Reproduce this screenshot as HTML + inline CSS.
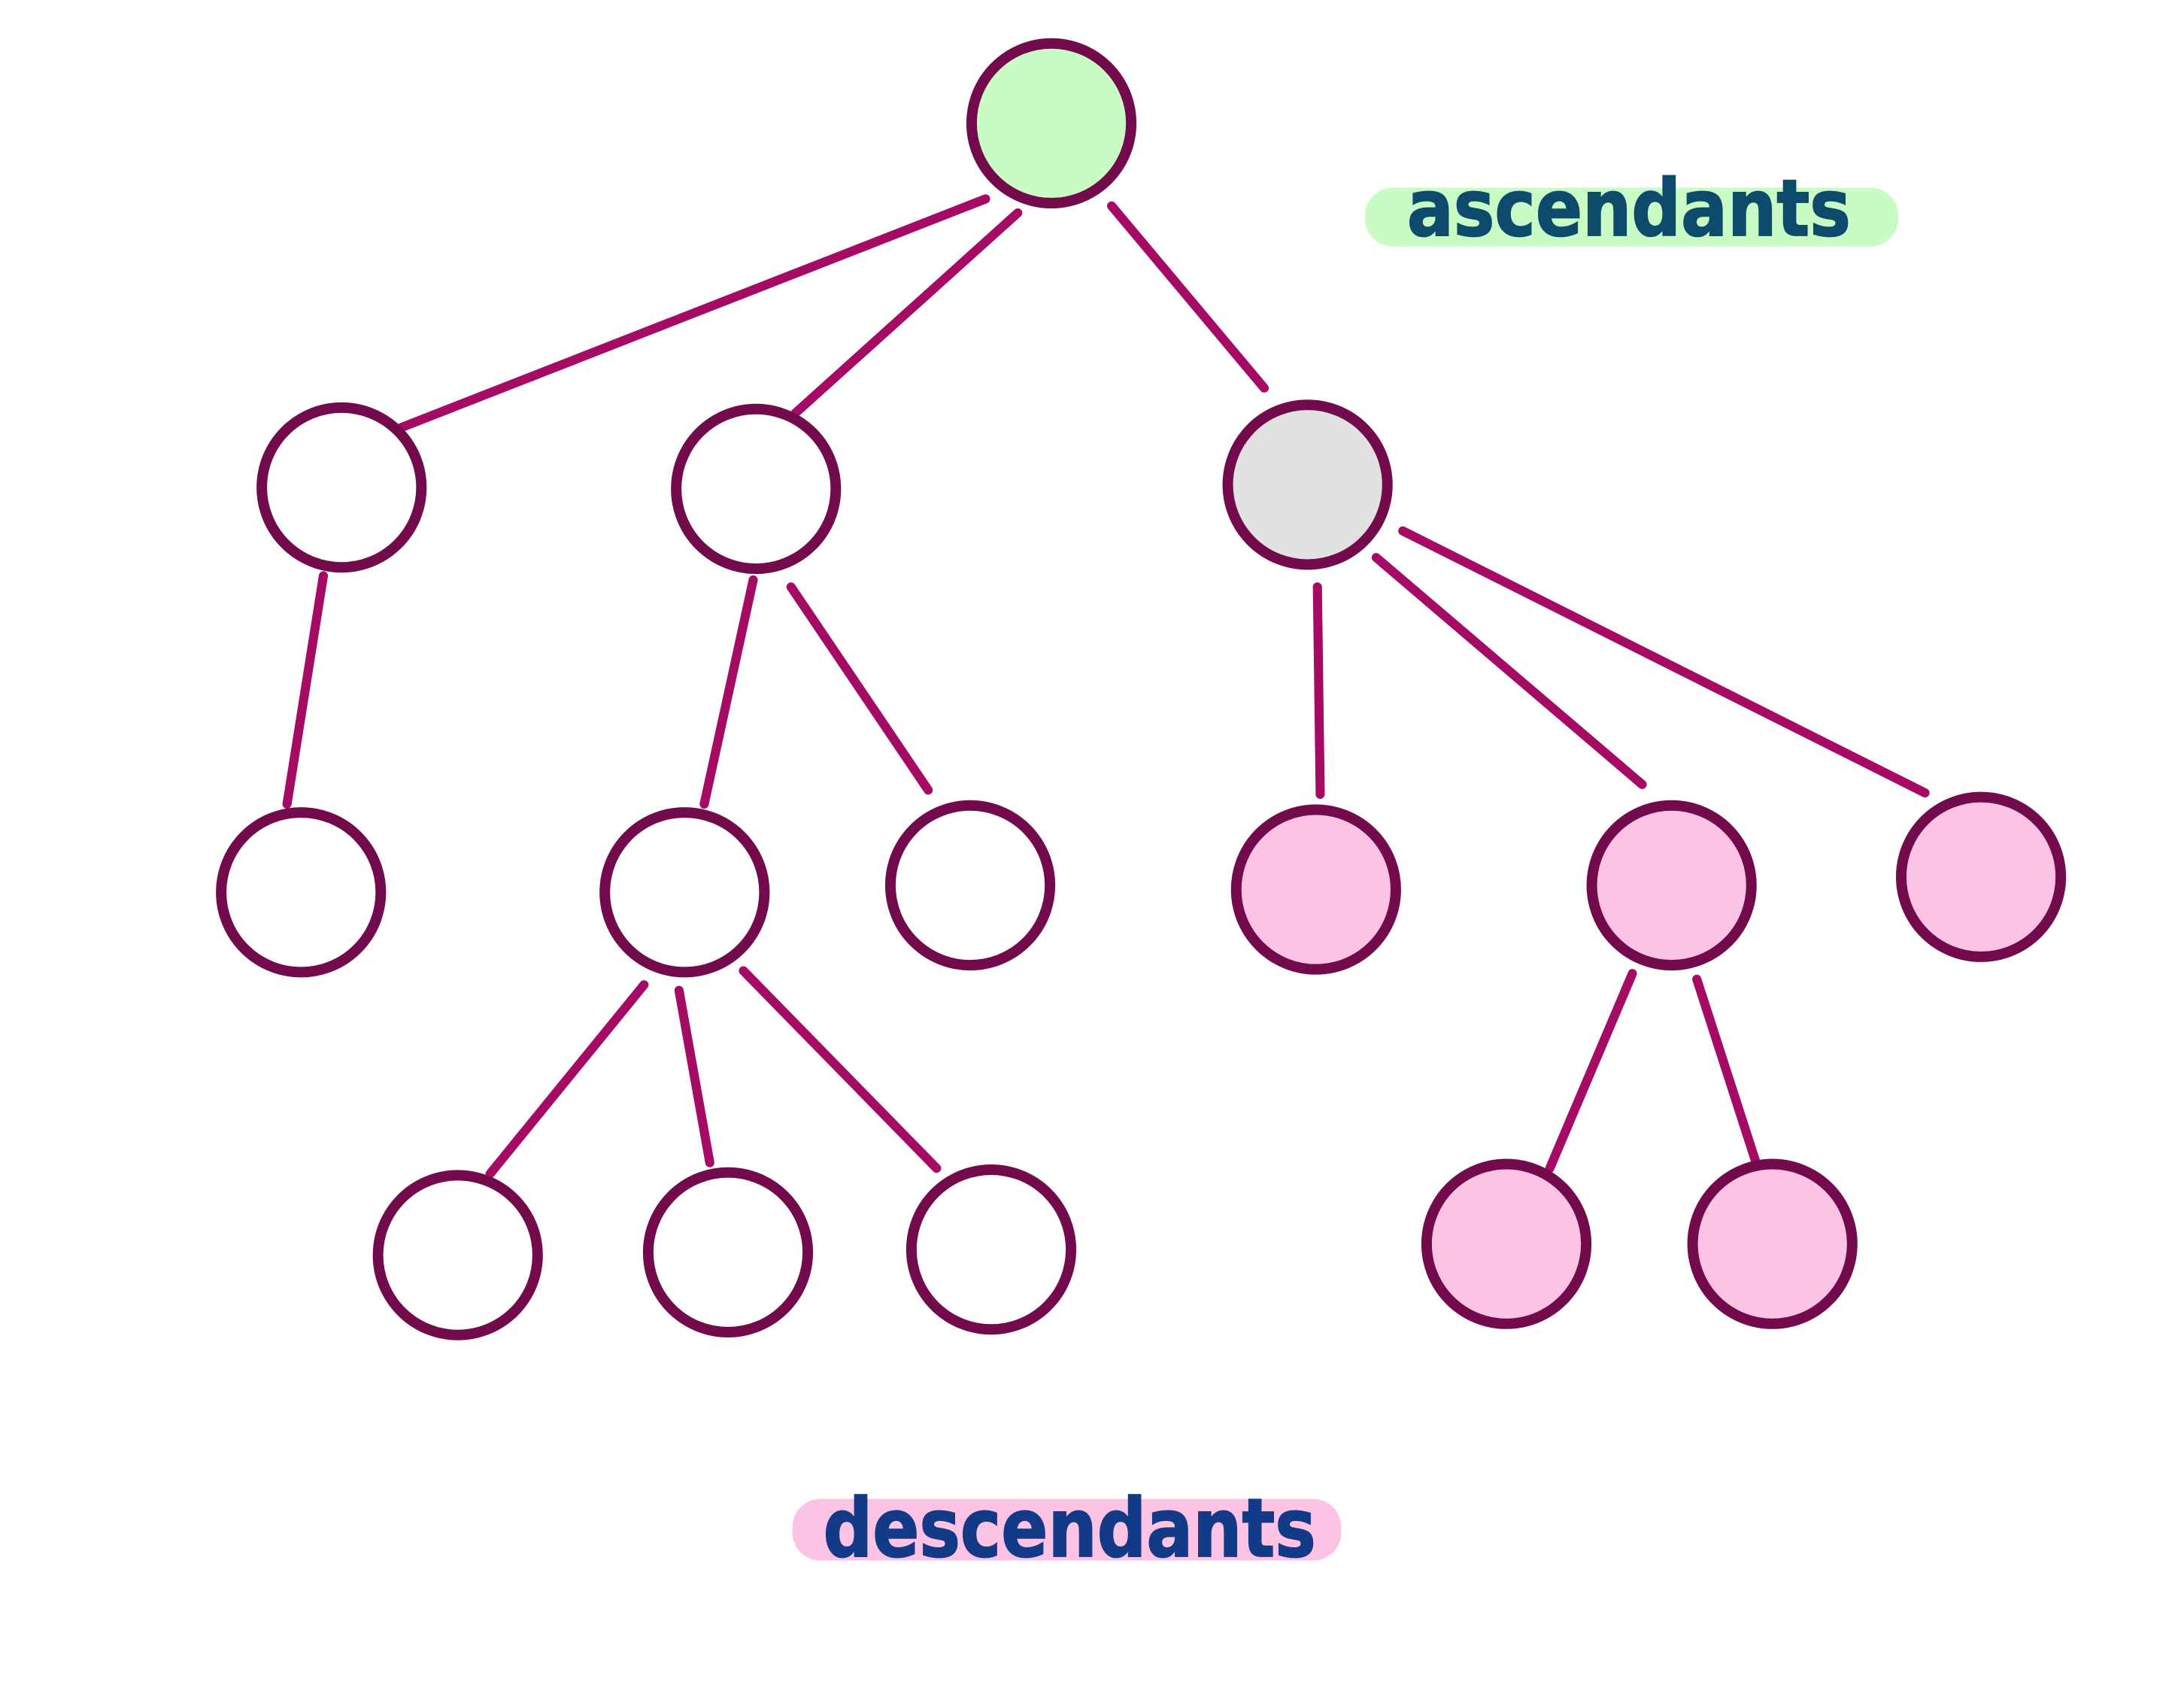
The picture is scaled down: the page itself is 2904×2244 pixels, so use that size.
<!DOCTYPE html>
<html><head><meta charset="utf-8"><style>html,body{margin:0;padding:0;background:#fff}svg{display:block}</style></head>
<body>
<svg width="2904" height="2244" viewBox="0 0 1560 1205" preserveAspectRatio="none" xmlns="http://www.w3.org/2000/svg">
<rect width="1560" height="1205" fill="#fff"/>
<g stroke="#a50a64" stroke-width="6.5" stroke-linecap="round">
<line x1="704" y1="142" x2="282" y2="307"/>
<line x1="727" y1="152" x2="568" y2="295"/>
<line x1="794" y1="147" x2="903" y2="277"/>
<line x1="231" y1="411" x2="205" y2="574"/>
<line x1="538" y1="414" x2="503" y2="574"/>
<line x1="565" y1="419" x2="663" y2="564"/>
<line x1="941" y1="419" x2="943" y2="567"/>
<line x1="983" y1="398" x2="1173" y2="560"/>
<line x1="1002" y1="379" x2="1375" y2="566"/>
<line x1="460" y1="703" x2="350" y2="838"/>
<line x1="485" y1="707" x2="507" y2="830"/>
<line x1="531" y1="693" x2="669" y2="834"/>
<line x1="1166" y1="695" x2="1107" y2="834"/>
<line x1="1212" y1="699" x2="1254" y2="829"/>
</g>
<g stroke="#720a4c" stroke-width="7.5">
<circle cx="751" cy="88" r="57" fill="#c8fcc4"/>
<circle cx="244" cy="348" r="57" fill="#fff"/>
<circle cx="540" cy="349" r="57" fill="#fff"/>
<circle cx="934" cy="346" r="57" fill="#e1e1e1"/>
<circle cx="215" cy="637" r="57" fill="#fff"/>
<circle cx="489" cy="637" r="57" fill="#fff"/>
<circle cx="693" cy="632" r="57" fill="#fff"/>
<circle cx="940" cy="635" r="57" fill="#fdc3e5"/>
<circle cx="1194" cy="632" r="57" fill="#fdc3e5"/>
<circle cx="1415" cy="626" r="57" fill="#fdc3e5"/>
<circle cx="327" cy="896" r="57" fill="#fff"/>
<circle cx="520" cy="894" r="57" fill="#fff"/>
<circle cx="708" cy="892" r="57" fill="#fff"/>
<circle cx="1076" cy="888" r="57" fill="#fdc3e5"/>
<circle cx="1266" cy="888" r="57" fill="#fdc3e5"/>
</g>
<rect x="975" y="134" width="381" height="42" rx="20" fill="#c8fcc4"/>
<text x="1005" y="168" font-family="'DejaVu Sans', sans-serif" font-weight="bold" font-size="56" fill="#0d4a6b" stroke="#0d4a6b" stroke-width="1" textLength="317" lengthAdjust="spacingAndGlyphs">ascendants</text>
<rect x="566" y="1070" width="392" height="44" rx="20" fill="#fdc3e5"/>
<text x="588" y="1111" font-family="'DejaVu Sans', sans-serif" font-weight="bold" font-size="58" fill="#123a86" stroke="#123a86" stroke-width="1" textLength="352" lengthAdjust="spacingAndGlyphs">descendants</text>
</svg>
</body></html>
